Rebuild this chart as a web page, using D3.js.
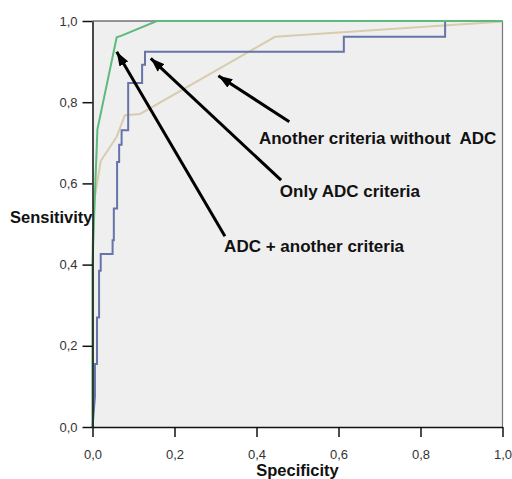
<!DOCTYPE html>
<html>
<head>
<meta charset="utf-8">
<script src="https://cdn.jsdelivr.net/npm/d3@7"></script>
<style>
  body { margin: 0; background: #fff; }
  text { font-family: "Liberation Sans", Arial, sans-serif; }
</style>
</head>
<body>
<script>
// ROC curves (x = specificity axis, y = sensitivity)
let greenCurve = [
  [0, 0], [0, 0.40], [0.005, 0.55], [0.012, 0.733], [0.059, 0.96],
  [0.071, 0.964], [0.157, 1], [1, 1]
];
let tanCurve = [
  [0, 0], [0, 0.45], [0.006, 0.567], [0.02, 0.655], [0.059, 0.715],
  [0.079, 0.768], [0.116, 0.771], [0.445, 0.961], [0.994, 0.998], [1, 1]
];
let blueCurve = [
  [0, 0], [0.006, 0.075], [0.006, 0.155], [0.011, 0.155], [0.011, 0.27],
  [0.016, 0.27], [0.016, 0.385], [0.02, 0.385], [0.02, 0.426], [0.049, 0.426],
  [0.049, 0.46], [0.052, 0.46], [0.052, 0.538], [0.06, 0.538], [0.06, 0.653],
  [0.065, 0.653], [0.065, 0.695], [0.071, 0.695], [0.071, 0.731], [0.087, 0.731],
  [0.087, 0.847], [0.121, 0.847], [0.121, 0.892], [0.128, 0.892], [0.128, 0.924],
  [0.613, 0.924], [0.613, 0.961], [0.86, 0.961], [0.86, 1], [1, 1]
];
let tickValues = [0, 0.2, 0.4, 0.6, 0.8, 1.0];
let tickLabels = ["0,0", "0,2", "0,4", "0,6", "0,8", "1,0"];
let yTickLabels = ["0,0", "0,2", "0,4", "0,6", "0,8", "1,0"];

// annotations: label text, label anchor, arrow tail, arrow head (data units)
let labelTexts = ["Another criteria without  ADC", "Only ADC criteria", "ADC + another criteria"];
let labelPos = [[0.406, 0.698], [0.457, 0.567], [0.321, 0.432]];
let arrowTails = [[0.48, 0.752], [0.46, 0.608], [0.323, 0.47]];
let arrowHeads = [[0.307, 0.865], [0.142, 0.908], [0.059, 0.924]];

let width = 512, height = 479;
let margin = {top: 21, right: 10, bottom: 52, left: 92.5};

let svg = d3.select("body").append("svg")
  .attr("width", width).attr("height", height);

let x = d3.scaleLinear().domain([0, 1]).range([margin.left, 502.5]);
let y = d3.scaleLinear().domain([0, 1]).range([427, margin.top]);

svg.append("defs").append("marker")
  .attr("id", "head")
  .attr("viewBox", "0 0 14 10")
  .attr("refX", 14).attr("refY", 5)
  .attr("markerWidth", 14).attr("markerHeight", 10)
  .attr("markerUnits", "userSpaceOnUse")
  .attr("orient", "auto")
  .append("path").attr("d", "M0,0L14,5L0,10Z").attr("fill", "#000");

// plot background + frame
svg.append("rect")
  .attr("x", x(0)).attr("y", y(1))
  .attr("width", x(1) - x(0)).attr("height", y(0) - y(1))
  .attr("fill", "#efefef")
  .attr("stroke", "none");
svg.append("line")
  .attr("x1", x(1)).attr("x2", x(1)).attr("y1", y(1)).attr("y2", y(0))
  .attr("stroke", "#777").attr("stroke-width", 1.2);
svg.append("line")
  .attr("x1", x(0)).attr("x2", x(1)).attr("y1", y(1)).attr("y2", y(1))
  .attr("stroke", "#333").attr("stroke-width", 1.2);

let line = d3.line().x(d => x(d[0])).y(d => y(d[1]));

svg.append("path").attr("d", line(tanCurve))
  .attr("fill", "none").attr("stroke", "#d8ccae").attr("stroke-width", 2);
svg.append("path").attr("d", line(blueCurve))
  .attr("fill", "none").attr("stroke", "#6674a8").attr("stroke-width", 2);
svg.append("path").attr("d", line(greenCurve))
  .attr("fill", "none").attr("stroke", "#5cba7c").attr("stroke-width", 2);

// axes
let xAxis = d3.axisBottom(x).tickValues(tickValues)
  .tickFormat((d, i) => tickLabels[i]).tickSize(10).tickSizeOuter(0);
let yAxis = d3.axisLeft(y).tickValues(tickValues)
  .tickFormat((d, i) => yTickLabels[i]).tickSize(10).tickSizeOuter(0);

let gx = svg.append("g").attr("transform", `translate(0,${y(0)})`).call(xAxis);
let gy = svg.append("g").attr("transform", `translate(${x(0)},0)`).call(yAxis);
[gx, gy].forEach(g => {
  g.select(".domain").attr("stroke", "#111").attr("stroke-width", 1.5);
  g.selectAll(".tick line").attr("stroke", "#111").attr("stroke-width", 1.5);
  g.selectAll(".tick text")
    .attr("fill", "#333").attr("font-size", 13)
    .style("font-family", "'Liberation Sans', Arial, sans-serif");
});
gx.selectAll(".tick text").attr("dy", "1.45em");
gy.selectAll(".tick text").attr("x", -15);

// axis titles
svg.append("text")
  .attr("x", 10).attr("y", 223)
  .attr("font-size", 16.5).attr("font-weight", "bold").attr("fill", "#111")
  .text("Sensitivity");
svg.append("text")
  .attr("x", (x(0) + x(1)) / 2).attr("y", 476)
  .attr("text-anchor", "middle")
  .attr("font-size", 16.5).attr("font-weight", "bold").attr("fill", "#111")
  .text("Specificity");

// arrows and labels
svg.selectAll("line.arrow")
  .data(arrowTails)
  .enter().append("line")
    .attr("class", "arrow")
    .attr("x1", d => x(d[0])).attr("y1", d => y(d[1]))
    .attr("x2", (d, i) => x(arrowHeads[i][0])).attr("y2", (d, i) => y(arrowHeads[i][1]))
    .attr("stroke", "#000").attr("stroke-width", 3)
    .attr("marker-end", "url(#head)");

svg.selectAll("text.label")
  .data(labelTexts)
  .enter().append("text")
    .attr("class", "label")
    .attr("x", (d, i) => x(labelPos[i][0])).attr("y", (d, i) => y(labelPos[i][1]))
    .attr("font-size", 17).attr("font-weight", "bold").attr("fill", "#111")
    .style("white-space", "pre")
    .text(d => d);
</script>
</body>
</html>
